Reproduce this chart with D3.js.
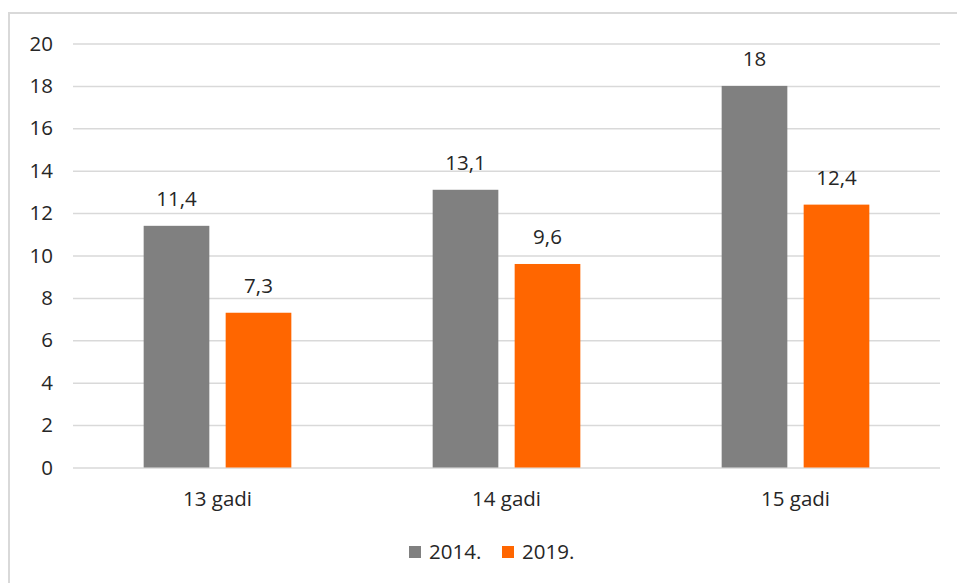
<!DOCTYPE html>
<html>
<head>
<meta charset="utf-8">
<script src="https://cdn.jsdelivr.net/npm/d3@7"></script>
<style>
  html, body { margin: 0; padding: 0; background: #fff; }
  svg { display: block; }
  text { font-family: "Open Sans", Lato, "Liberation Sans", sans-serif; fill: #262626; }
</style>
</head>
<body>
<svg id="chart" width="957" height="583"></svg>
<script>
const categories = ["13 gadi", "14 gadi", "15 gadi"];
const seriesNames = ["2014.", "2019."];
const values2014 = [11.4, 13.1, 18];
const values2019 = [7.3, 9.6, 12.4];
const yTicks = [0, 2, 4, 6, 8, 10, 12, 14, 16, 18, 20];
const colors = ["#808080", "#FF6600"];

const seriesValues = [values2014, values2019];
const fmt = v => String(v).replace(".", ",");
const FS = 20.5;
const FF = "'Open Sans', Lato, sans-serif";

const svg = d3.select("#chart");
const W = 957, H = 583;
const plot = { left: 73, right: 940, top: 43.5, bottom: 467.5 };

// outer frame (left and top edges visible)
svg.append("path")
  .attr("d", `M9,${H} L9,13 L${W},13`)
  .attr("fill", "none")
  .attr("stroke", "#d9d9d9")
  .attr("stroke-width", 2);

const y = d3.scaleLinear().domain([0, 20]).range([plot.bottom, plot.top]);
const x0 = d3.scaleBand().domain(categories).range([plot.left, plot.right])
  .paddingInner(0.489).paddingOuter(0.2445);
const x1 = d3.scaleBand().domain(seriesNames).range([0, x0.bandwidth()])
  .paddingInner(0.199).paddingOuter(0);

// gridlines + y labels
const yAxis = d3.axisLeft(y).tickValues(yTicks).tickSize(-(plot.right - plot.left)).tickPadding(20).tickFormat(d => d);
const gy = svg.append("g").attr("transform", `translate(${plot.left},0)`).call(yAxis);
gy.select(".domain").remove();
gy.selectAll(".tick line").attr("stroke", "#d9d9d9").attr("stroke-width", 1.5);
gy.selectAll(".tick text").attr("font-size", FS).attr("fill", "#262626").style("font-family", FF);

// bars
const groups = svg.append("g").selectAll("g").data(categories).join("g")
  .attr("transform", d => `translate(${x0(d)},0)`);

groups.selectAll("rect")
  .data((d, i) => seriesNames.map((s, j) => ({ s, j, v: seriesValues[j][i] })))
  .join("rect")
  .attr("x", d => x1(d.s))
  .attr("width", x1.bandwidth())
  .attr("y", d => y(d.v))
  .attr("height", d => y(0) - y(d.v))
  .attr("fill", d => colors[d.j]);

groups.selectAll("text.lbl")
  .data((d, i) => seriesNames.map((s, j) => ({ s, j, v: seriesValues[j][i] })))
  .join("text")
  .attr("class", "lbl")
  .attr("x", d => x1(d.s) + x1.bandwidth() / 2)
  .attr("y", d => y(d.v) - 19.5)
  .attr("text-anchor", "middle")
  .attr("font-size", FS)
  .text(d => fmt(d.v));

// x axis labels
const xAxis = d3.axisBottom(x0).tickSize(0).tickPadding(23.5);
const gx = svg.append("g").attr("transform", `translate(0,${plot.bottom})`).call(xAxis);
gx.select(".domain").remove();
gx.selectAll(".tick text").attr("font-size", FS).attr("fill", "#262626").style("font-family", FF);

// legend
const legendX = [409, 502];
const legend = svg.append("g").selectAll("g").data(seriesNames).join("g")
  .attr("transform", (d, i) => `translate(${legendX[i]},546)`);
legend.append("rect").attr("width", 12).attr("height", 12).attr("fill", (d, i) => colors[i]);
legend.append("text").attr("x", 20).attr("y", 13).attr("font-size", FS).text(d => d);
</script>
</body>
</html>
